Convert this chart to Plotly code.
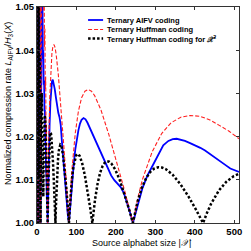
import plotly.graph_objects as go

# ---- data ----
aifv_x = [2, 3, 4, 5, 6, 7, 8, 9, 10, 11, 12, 13, 14, 15, 16, 17, 18, 19, 20, 21, 22, 23, 24, 25, 26, 27,
          28.5, 30, 32, 34, 36, 38, 40, 42, 45, 48, 51, 54, 57, 60, 63, 66, 69, 72, 75, 78, 81,
          85, 89, 93, 97, 101, 105, 109, 113, 118, 123, 128, 134, 140, 148, 156, 164, 172, 180, 188, 196, 204,
          212, 220, 228, 236, 243,
          255, 267, 280, 294, 307, 320, 333, 344, 354, 365, 375, 388, 401, 414, 426, 439, 452, 465, 478, 490, 500, 512]
aifv_y = [1.585, 1.0, 1.12, 1.06, 1.075, 1.035, 1.04, 1.0, 1.035, 1.03, 1.052, 1.04, 1.05, 1.038, 1.04, 1.032,
          1.033, 1.026, 1.026, 1.019, 1.018, 1.012, 1.011, 1.006, 1.005, 1.0,
          1.009, 1.016, 1.023, 1.028, 1.031, 1.0328, 1.0332, 1.0325, 1.031, 1.029, 1.027, 1.0255, 1.0245, 1.0228,
          1.019, 1.0155, 1.012, 1.008, 1.005, 1.002, 1.0,
          1.005, 1.0095, 1.0135, 1.017, 1.0195, 1.0215, 1.023, 1.0239, 1.0243, 1.024, 1.0232, 1.022, 1.0205,
          1.0188, 1.0172, 1.0158, 1.0142, 1.0125, 1.011, 1.0099, 1.0092, 1.0083, 1.007, 1.0048, 1.0024, 1.0,
          1.004, 1.008, 1.011, 1.0135, 1.016, 1.018, 1.019, 1.0194, 1.0195, 1.0193, 1.019, 1.0185, 1.018, 1.0174,
          1.0168, 1.016, 1.0152, 1.0143, 1.0134, 1.0126, 1.0122, 1.0118]

huff_x = [2, 3, 4, 5, 6, 7, 8, 9, 10, 11, 12, 13, 14, 15, 16, 17, 18, 19, 20, 21, 22, 23, 24, 25, 26, 27,
          28.35, 29.7, 32.4, 35.1, 37.8, 40.5, 43.2, 45.9, 48.6, 54, 60.75, 67.5, 74.25, 81,
          85, 89, 97, 105, 113, 121.5, 130, 138, 146, 162, 182, 202.5, 223, 243,
          255, 267, 292, 316, 340, 364.5, 389, 413, 437, 462, 486, 512]
huff_y = [1.585, 1.0, 1.189, 1.092, 1.124, 1.048, 1.057, 1.0, 1.0497, 1.0413, 1.0684, 1.0543, 1.0705, 1.0548,
          1.0649, 1.0492, 1.0558, 1.0408, 1.0452, 1.031, 1.0339, 1.0207, 1.0227, 1.0103, 1.0116, 1.0,
          1.0119, 1.0191, 1.0292, 1.0356, 1.0393, 1.041, 1.0413, 1.0406, 1.039, 1.0344, 1.0269, 1.0184, 1.0096, 1.0,
          1.0075, 1.0128, 1.0208, 1.0259, 1.029, 1.0305, 1.0309, 1.0305, 1.0295, 1.0262, 1.0205, 1.014, 1.0072, 1.0,
          1.0056, 1.01, 1.0165, 1.0207, 1.0232, 1.0245, 1.0249, 1.0247, 1.0239, 1.0226, 1.0213, 1.0195]

huff2_x = [2, 3, 4, 5, 6, 7, 8, 9, 10, 11, 12, 13, 14, 15, 16, 17, 18, 19, 20, 21, 22, 23, 24, 25, 26, 27,
           27.67, 28.32, 29.58, 30.79, 31.95, 33.07, 34.15, 35.2, 36.22, 38.18, 40.5, 42.69, 44.77, 46.77,
           47.92, 49.05, 51.23, 53.32, 55.33, 57.27, 59.15, 60.97, 62.74, 66.14, 70.15, 73.94, 77.55, 81,
           83.0, 84.95, 88.73, 92.36, 95.84, 99.2, 102.46, 105.61, 108.67, 114.55, 121.5, 128.07, 134.32, 140.3,
           143.77, 147.15, 153.69, 159.97, 166.0, 171.83, 177.47, 182.92, 188.23, 198.42, 210.45, 221.83, 232.66, 243,
           249.0, 254.86, 266.18, 277.07, 287.52, 297.6, 307.37, 316.82, 326.01, 343.65, 364.5, 384.21, 402.97, 420.89,
           431.3, 441.4, 461.0, 479.9, 498.0, 512]
huff2_y = [1.1887, 1.0, 1.0649, 1.0103, 1.0389, 1.037, 1.0236, 1.0, 1.0234, 1.0299, 1.0301, 1.0239, 1.0163,
           1.0061, 1.0061, 1.0157, 1.0218, 1.0243, 1.025, 1.0236, 1.0215, 1.018, 1.0143, 1.0097, 1.0051, 1.0,
           1.00447, 1.00815, 1.01363, 1.01721, 1.01939, 1.02056, 1.02095, 1.02077, 1.02014, 1.01796, 1.01413,
           1.00965, 1.00488, 1.0,
           1.00384, 1.007, 1.01173, 1.01483, 1.01674, 1.01777, 1.01813, 1.01799, 1.01747, 1.0156, 1.0123, 1.00842,
           1.00426, 1.0,
           1.00336, 1.00613, 1.01029, 1.01303, 1.01472, 1.01564, 1.01598, 1.01587, 1.01542, 1.0138, 1.01089,
           1.00747, 1.00378, 1.0,
           1.00299, 1.00546, 1.00917, 1.01162, 1.01314, 1.01397, 1.01429, 1.0142, 1.01381, 1.01236, 1.00978,
           1.00671, 1.0034, 1.0,
           1.00269, 1.00492, 1.00827, 1.01048, 1.01187, 1.01263, 1.01292, 1.01284, 1.0125, 1.0112, 1.00886,
           1.00609, 1.00309, 1.0,
           1.00245, 1.00447, 1.00753, 1.00955, 1.01082, 1.0114]

x_ticks = [0, 100, 200, 300, 400, 500]
y_ticks = [1.00, 1.01, 1.02, 1.03, 1.04, 1.05]
y_tick_labels = ["1.00", "1.01", "1.02", "1.03", "1.04", "1.05"]

legend_labels = ["Ternary AIFV coding", "Ternary Huffman coding",
                 "Ternary Huffman coding for <i>\U0001D4B3</i><sup>2</sup>"]
colors = ["#0000ff", "#ff2020", "#000000"]

fig = go.Figure()
fig.add_trace(go.Scatter(x=aifv_x, y=aifv_y, mode="lines", line=dict(color=colors[0], width=1.8),
                         showlegend=False))
fig.add_trace(go.Scatter(x=huff_x, y=huff_y, mode="lines",
                         line=dict(color=colors[1], width=1.1, dash="4px,2px"), showlegend=False))
fig.add_trace(go.Scatter(x=huff2_x, y=huff2_y, mode="lines",
                         line=dict(color=colors[2], width=2.5, dash="2.5px,2px"), showlegend=False))

# hand-made compact legend (paper coordinates)
L = 37.0; R = 238.7; T = 7.0; B = 223.0
def px(xp):
    return (xp - L) / (R - L)
def py(yp):
    return (B - yp) / (B - T)

fig.add_shape(type="rect", xref="paper", yref="paper", x0=px(86), x1=px(238), y0=py(44), y1=py(11),
              fillcolor="white", line=dict(width=0), layer="above")
rows = [20, 29.5, 38.5]
dashes = ["solid", "4px,2px", "2.5px,2px"]
widths = [1.8, 1.1, 2.5]
for lab, c, yy, d, w in zip(legend_labels, colors, rows, dashes, widths):
    fig.add_shape(type="line", xref="paper", yref="paper", x0=px(88), x1=px(103), y0=py(yy), y1=py(yy),
                  line=dict(color=c, width=w, dash=d), layer="above")
    fig.add_annotation(xref="paper", yref="paper", x=px(105), y=py(yy), text="<b>" + lab + "</b>",
                       showarrow=False, xanchor="left", yanchor="middle",
                       font=dict(family="Liberation Sans, Arial", size=7.5, color="black"))

fig.add_annotation(xref="paper", yref="paper", x=px(8), y=py(103), textangle=-90,
                   text="Normalized compression rate <i>L</i><sub>AIFV</sub>/<i>H</i><sub>3</sub>(<i>X</i>)",
                   showarrow=False, xanchor="center", yanchor="middle",
                   font=dict(family="Liberation Sans, Arial", size=9, color="black"))
fig.add_annotation(xref="paper", yref="paper", x=px(142), y=py(243),
                   text="Source alphabet size |<i>\U0001D4B3</i>|",
                   showarrow=False, xanchor="center", yanchor="middle",
                   font=dict(family="Liberation Sans, Arial", size=9, color="black"))

axis_common = dict(showline=True, linecolor="#333333", linewidth=1, mirror="ticks", ticks="inside",
                   ticklen=3, tickcolor="#333333", showgrid=False, zeroline=False, automargin=False,
                   tickfont=dict(family="Liberation Sans, Arial", size=9.5, color="black", weight="bold"))
fig.update_xaxes(range=[0, 512], tickvals=x_ticks, ticktext=[str(v) for v in x_ticks], **axis_common)
fig.update_yaxes(range=[1.0, 1.05], tickvals=y_ticks, ticktext=y_tick_labels, **axis_common)

fig.update_layout(width=251, height=251, margin=dict(l=37, r=12, t=7, b=28, autoexpand=False),
                  plot_bgcolor="white", paper_bgcolor="white", showlegend=False)
fig.write_html("out.html", config={"displayModeBar": False})

# remove the browser's default body margin so the figure sits at the window origin
with open("out.html", "r", encoding="utf-8") as f:
    html = f.read()
html = html.replace("<body>", '<body style="margin:0;padding:0;">', 1)
with open("out.html", "w", encoding="utf-8") as f:
    f.write(html)
